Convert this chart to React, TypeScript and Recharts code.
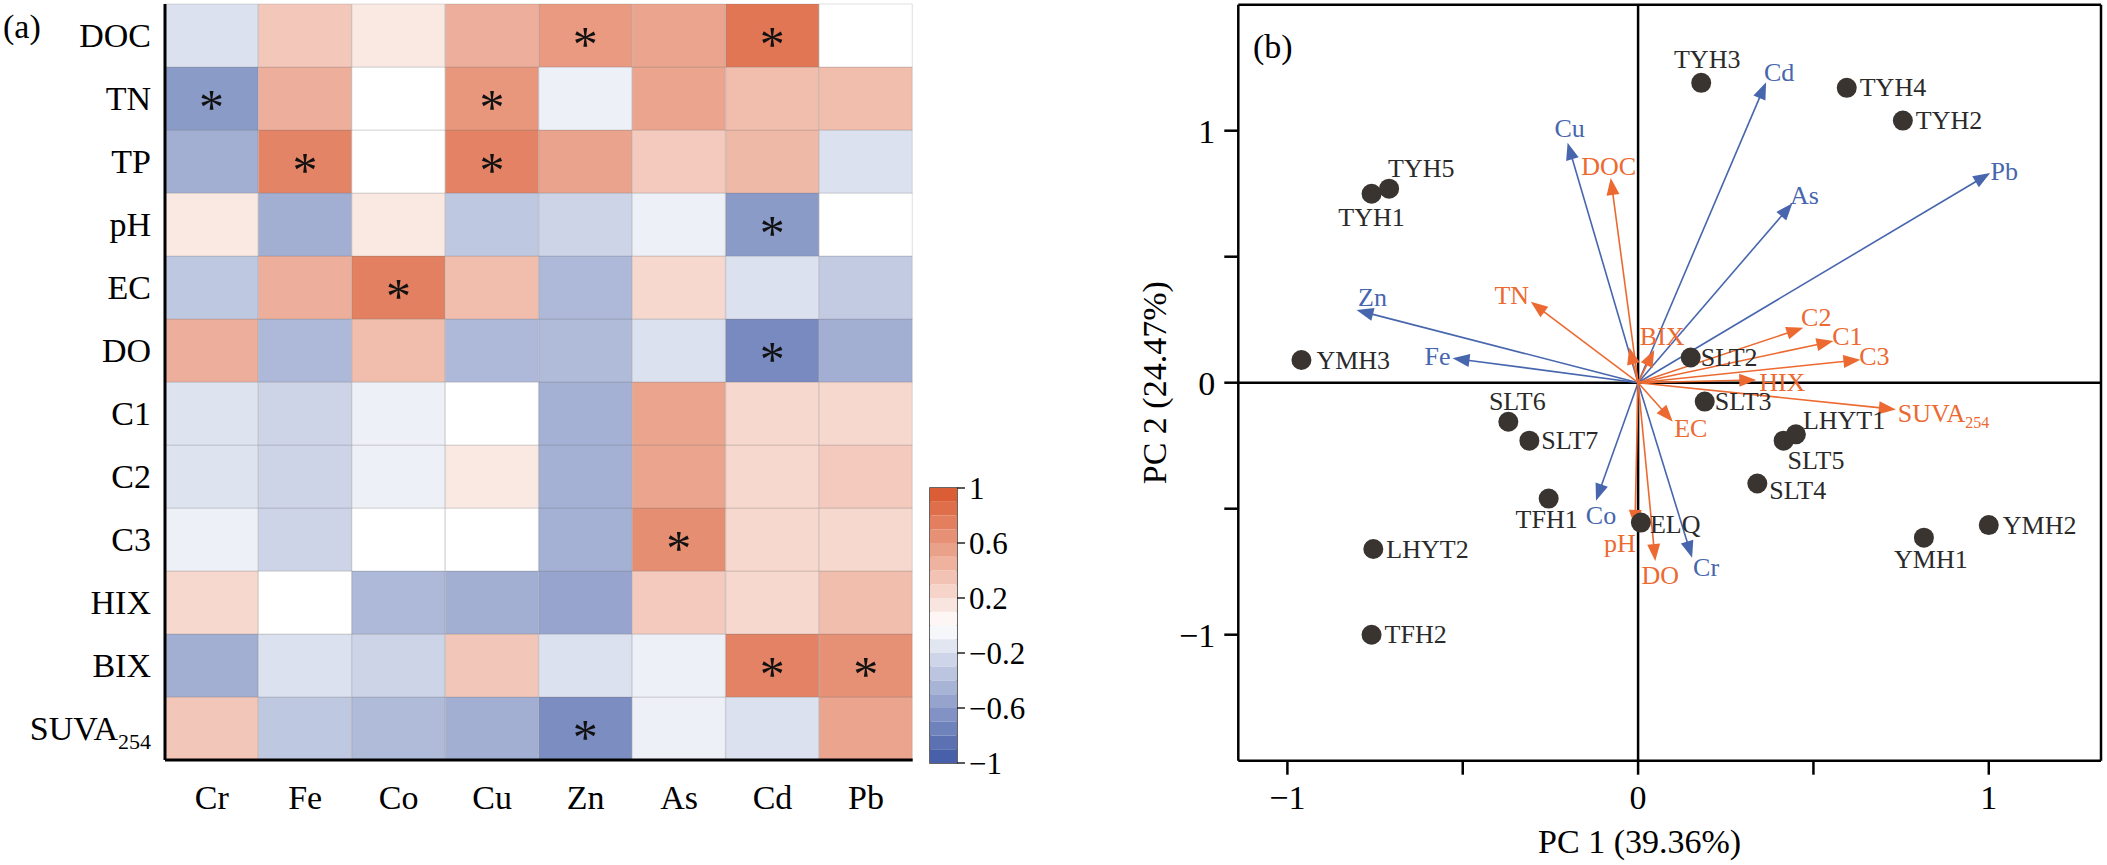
import React from "react";
import {
  BarChart,
  Bar,
  Cell,
  XAxis,
  YAxis,
  LabelList,
  ReferenceArea,
  ScatterChart,
  Scatter,
  ReferenceLine,
  Label,
} from "recharts";

const FONT = '"Liberation Serif", "Times New Roman", serif';
const BLUE = "#4766ad";
const ORANGE = "#ec6a31";
const DOT = "#3a3431";

// ---- (a) correlation heatmap ----
const metals = ["Cr", "Fe", "Co", "Cu", "Zn", "As", "Cd", "Pb"];
const params = ["DOC", "TN", "TP", "pH", "EC", "DO", "C1", "C2", "C3", "HIX", "BIX", "SUVA254"];

// one array per row, values in metals order
const rDOC = [-0.18, 0.32, 0.13, 0.47, 0.59, 0.53, 0.8, 0.0];
const rTN = [-0.6, 0.47, 0.0, 0.61, -0.09, 0.53, 0.38, 0.38];
const rTP = [-0.48, 0.72, 0.0, 0.73, 0.54, 0.31, 0.41, -0.18];
const rpH = [0.13, -0.48, 0.13, -0.33, -0.26, -0.09, -0.6, 0.0];
const rEC = [-0.33, 0.47, 0.74, 0.38, -0.42, 0.23, -0.18, -0.31];
const rDO = [0.47, -0.42, 0.38, -0.42, -0.41, -0.18, -0.7, -0.48];
const rC1 = [-0.17, -0.26, -0.09, 0.0, -0.47, 0.53, 0.23, 0.23];
const rC2 = [-0.17, -0.26, -0.09, 0.13, -0.47, 0.53, 0.23, 0.31];
const rC3 = [-0.09, -0.26, 0.0, 0.0, -0.47, 0.66, 0.23, 0.23];
const rHIX = [0.23, 0.0, -0.42, -0.48, -0.54, 0.31, 0.23, 0.38];
const rBIX = [-0.48, -0.18, -0.26, 0.33, -0.18, -0.09, 0.73, 0.65];
const rSUVA = [0.33, -0.33, -0.41, -0.48, -0.68, -0.09, -0.18, 0.53];

const corr: Record<string, number[]> = {
  DOC: rDOC, TN: rTN, TP: rTP, pH: rpH, EC: rEC, DO: rDO,
  C1: rC1, C2: rC2, C3: rC3, HIX: rHIX, BIX: rBIX, SUVA254: rSUVA,
};

const significant = [
  "DOC-Zn", "DOC-Cd", "TN-Cr", "TN-Cu", "TP-Fe", "TP-Cu", "pH-Cd",
  "EC-Co", "DO-Cd", "C3-As", "BIX-Cd", "BIX-Pb", "SUVA254-Zn",
];

const colorbarTicks = [-1, -0.6, -0.2, 0.2, 0.6, 1];
const colorbarSteps = [
  -0.95, -0.85, -0.75, -0.65, -0.55, -0.45, -0.35, -0.25, -0.15, -0.05,
  0.05, 0.15, 0.25, 0.35, 0.45, 0.55, 0.65, 0.75, 0.85, 0.95,
];

// ---- (b) PCA biplot ----
const siteNames = [
  "TYH1", "TYH5", "YMH3", "SLT6", "SLT7", "TFH1", "LHYT2", "TFH2", "TYH3", "TYH4",
  "TYH2", "SLT2", "SLT3", "LHYT1", "SLT5", "SLT4", "ELQ", "YMH1", "YMH2",
];
const sitePC1 = [-0.76, -0.71, -0.96, -0.37, -0.31, -0.255, -0.755, -0.76, 0.18, 0.595, 0.755, 0.15, 0.19, 0.45, 0.415, 0.34, 0.008, 0.815, 1.0];
const sitePC2 = [0.75, 0.77, 0.09, -0.155, -0.23, -0.46, -0.66, -1.0, 1.19, 1.17, 1.04, 0.1, -0.075, -0.205, -0.23, -0.4, -0.555, -0.615, -0.565];

// loadings, metals order
const metalPC1 = [0.154, -0.529, -0.12, -0.201, -0.803, 0.44, 0.365, 1.004];
const metalPC2 = [-0.695, 0.097, -0.468, 0.952, 0.288, 0.712, 1.192, 0.832];
// loadings, params order
const paramPC1 = [-0.078, -0.306, -0.025, -0.009, 0.099, 0.049, 0.557, 0.471, 0.634, 0.337, 0.046, 0.735];
const paramPC2 = [0.812, 0.321, 0.14, -0.572, -0.155, -0.708, 0.165, 0.218, 0.091, 0.011, 0.13, -0.106];

const pcTicks = [-1, -0.5, 0, 0.5, 1];

// label placement (anchor, dx, dy from the point / arrow tip)
const siteLabelAt: Record<string, [string, number, number]> = {
  TYH1: ["middle", 0, 24], TYH5: ["start", -1, -20], YMH3: ["start", 15, 0],
  SLT6: ["middle", 9, -20], SLT7: ["start", 12, 0], TFH1: ["middle", -2, 21],
  LHYT2: ["start", 13, 0], TFH2: ["start", 13, 0], TYH3: ["middle", 6, -23],
  TYH4: ["start", 13, 0], TYH2: ["start", 13, 0], SLT2: ["start", 10, 0],
  SLT3: ["start", 10, 0], LHYT1: ["start", 7, -14], SLT5: ["start", 4, 20],
  SLT4: ["start", 12, 7], ELQ: ["start", 9, 2], YMH1: ["middle", 7, 22],
  YMH2: ["start", 14, 0],
};
const loadingLabelAt: Record<string, [string, number, number]> = {
  Cu: ["middle", 2, -14], Zn: ["middle", 16, -13], Fe: ["middle", -15, -2],
  Cd: ["middle", 13, -10], As: ["middle", 12, -8], Pb: ["middle", 14, -2],
  Co: ["middle", 5, 15], Cr: ["middle", 14, 10],
  DOC: ["middle", -2, -12], TN: ["middle", -19, -6], BIX: ["middle", 8, -13],
  C2: ["middle", 13, -10], C1: ["middle", 14, -5], C3: ["middle", 14, -3],
  HIX: ["middle", 26, 3], SUVA254: ["start", 2, 4], EC: ["middle", 18, 7],
  pH: ["middle", -15, 17], DO: ["middle", 5, 14],
};

const fmt = (v: number) => (v < 0 ? "\u2212" : "") + Math.abs(v);

function corrColor(v: number) {
  const end = v >= 0 ? [217, 84, 42] : [62, 88, 164];
  const t = Math.min(1, Math.abs(v));
  const c = end.map((ch) => Math.round(255 + (ch - 255) * t));
  return `rgb(${c[0]},${c[1]},${c[2]})`;
}

const heatRows = metals.map((m) => {
  const row: Record<string, string | number> = { metal: m };
  params.forEach((p) => (row[p] = 1));
  return row;
});
const rowTicks = params.map((_, i) => params.length - 0.5 - i);

const RowTick = ({ x, y, payload }: any) => {
  const name = params[Math.round(params.length - 0.5 - payload.value)];
  return (
    <text x={x - 14} y={y} textAnchor="end" dominantBaseline="central" fontSize={34} fontFamily={FONT} fill="#000">
      {name === "SUVA254" ? (
        <>
          SUVA
          <tspan fontSize={22} dy={12}>254</tspan>
        </>
      ) : (
        name
      )}
    </text>
  );
};

const MetalTick = ({ x, y, payload }: any) => (
  <text x={x} y={y + 37} textAnchor="middle" dominantBaseline="central" fontSize={34} fontFamily={FONT} fill="#000">
    {payload.value}
  </text>
);

const starFor = (p: string) => (props: any) => {
  const vb = props.viewBox ?? props;
  const j = props.index;
  if (j == null || !significant.includes(`${p}-${metals[j]}`)) return null;
  return (
    <text x={vb.x + vb.width / 2} y={vb.y + vb.height / 2 + 25} textAnchor="middle" fontSize={50} fontFamily={FONT} fill="#111">
      *
    </text>
  );
};

const cbOrder = [...colorbarSteps].sort((a, b) => Math.abs(a) - Math.abs(b));
const cbRow: Record<string, string | number> = { name: "cb" };
cbOrder.forEach((v, i) => (cbRow[`s${i}`] = Math.sign(v) * 0.1));

// ---- biplot helpers ----
const siteData = siteNames.map((name, i) => ({ name, x: sitePC1[i], y: sitePC2[i] }));
const loadings = [
  ...metals.map((name, i) => ({ name, x: metalPC1[i], y: metalPC2[i], color: BLUE })),
  ...params.map((name, i) => ({ name, x: paramPC1[i], y: paramPC2[i], color: ORANGE })),
];

const pcLabel = (v: number) => (Number.isInteger(v) ? (v === 0 ? "0" : fmt(v)) : "");

const SiteDot = (p: any) => {
  const { cx, cy, payload } = p;
  const [anchor, dx, dy] = siteLabelAt[payload.name] ?? ["start", 12, 0];
  return (
    <g>
      <circle cx={cx} cy={cy} r={10} fill={DOT} />
      <text x={cx + dx} y={cy + dy} textAnchor={anchor as any} dominantBaseline="central" fontSize={26} fontFamily={FONT} fill="#2a2a2a">
        {payload.name}
      </text>
    </g>
  );
};

const arrowShape = (name: string, color: string) => (p: any) => {
  const { x1, y1, x2, y2 } = p;
  const dx = x2 - x1;
  const dy = y2 - y1;
  const len = Math.hypot(dx, dy) || 1;
  const ux = dx / len;
  const uy = dy / len;
  const L = 17;
  const W = 6.5;
  const bx = x2 - ux * L;
  const by = y2 - uy * L;
  const pts = `${x2},${y2} ${bx - uy * W},${by + ux * W} ${bx + uy * W},${by - ux * W}`;
  const lab = loadingLabelAt[name];
  return (
    <g>
      <line x1={x1} y1={y1} x2={bx + ux * 2} y2={by + uy * 2} stroke={color} strokeWidth={1.6} />
      <polygon points={pts} fill={color} />
      {lab && (
        <text x={x2 + lab[1]} y={y2 + lab[2]} textAnchor={lab[0] as any} dominantBaseline="central" fontSize={26} fontFamily={FONT} fill={color}>
          {name === "SUVA254" ? (
            <>
              SUVA
              <tspan fontSize={16} dy={9}>254</tspan>
            </>
          ) : (
            name
          )}
        </text>
      )}
    </g>
  );
};

const xLabel = (p: any) => {
  const vb = p.viewBox;
  return (
    <text x={vb.x + vb.width / 2 - 30} y={vb.y + 92} textAnchor="middle" fontSize={34} fontFamily={FONT} fill="#000">
      PC 1 (39.36%)
    </text>
  );
};

const yLabel = (p: any) => {
  const vb = p.viewBox;
  const cx = vb.x + 55;
  const cy = vb.y + vb.height / 2;
  return (
    <text x={cx} y={cy} transform={`rotate(-90 ${cx} ${cy})`} textAnchor="middle" dominantBaseline="central" fontSize={34} fontFamily={FONT} fill="#000">
      PC 2 (24.47%)
    </text>
  );
};

const frame = { stroke: "#000", strokeWidth: 3 };
const axis2 = { stroke: "#000", strokeWidth: 2.5 };
const tickFont = { fill: "#000", fontSize: 34, fontFamily: FONT };

export default function App() {
  return (
    <div style={{ position: "absolute", left: 0, top: 0, width: 2107, height: 865, background: "#fff", fontFamily: FONT, overflow: "hidden" }}>
      <div style={{ position: "absolute", left: 3, top: 10, fontSize: 34, lineHeight: 1 }}>(a)</div>

      {/* heatmap */}
      <div style={{ position: "absolute", left: 0, top: 0 }}>
        <BarChart width={960} height={865} data={heatRows} margin={{ top: 4, right: 47.3, bottom: 45, left: 0 }} barCategoryGap={0} barGap={0}>
          <XAxis dataKey="metal" interval={0} height={60} tickSize={0} tickMargin={0} tickLine={false} axisLine={frame} tick={<MetalTick />} />
          <XAxis xAxisId="top" dataKey="metal" orientation="top" height={0} tick={false} tickLine={false} axisLine={frame} />
          <YAxis type="number" domain={[0, params.length]} ticks={rowTicks} interval={0} width={165} tickSize={0} tickMargin={0} tickLine={false} axisLine={frame} tick={<RowTick />} />
          <YAxis yAxisId="right" orientation="right" type="number" domain={[0, params.length]} width={0} tick={false} tickLine={false} axisLine={frame} />
          {[...params].reverse().map((p) => (
            <Bar key={p} dataKey={p} stackId="h" isAnimationActive={false} stroke="rgba(110,110,110,0.22)" strokeWidth={1}>
              {metals.map((m, j) => (
                <Cell key={m} fill={corrColor(corr[p][j])} />
              ))}
              <LabelList dataKey={p} content={starFor(p)} />
            </Bar>
          ))}
        </BarChart>
      </div>

      {/* colour bar */}
      <div style={{ position: "absolute", left: 900, top: 0 }}>
        <BarChart width={150} height={865} data={[cbRow]} margin={{ top: 488, right: 0, bottom: 102, left: 30 }} barCategoryGap={0} barGap={0} stackOffset="sign">
          <XAxis dataKey="name" hide />
          <YAxis orientation="right" type="number" domain={[-1, 1]} allowDataOverflow ticks={colorbarTicks} interval={0} tickFormatter={fmt} width={93} tickSize={8} tickMargin={4} axisLine={false} tickLine={{ stroke: "#222", strokeWidth: 1.5 }} tick={{ fill: "#000", fontSize: 31, fontFamily: FONT }} />
          {cbOrder.map((v, i) => (
            <Bar key={i} dataKey={`s${i}`} stackId="cb" fill={corrColor(v)} isAnimationActive={false} />
          ))}
          <ReferenceArea y1={-1} y2={1} fill="none" stroke="#333" strokeWidth={1.5} ifOverflow="visible" />
        </BarChart>
      </div>

      {/* biplot */}
      <div style={{ position: "absolute", left: 1100, top: 0 }}>
        <ScatterChart width={1007} height={865} margin={{ top: 4.7, right: 6, bottom: 0, left: 0 }}>
          <XAxis dataKey="x" type="number" domain={[-1.14, 1.32]} allowDataOverflow ticks={pcTicks} interval={0} tickFormatter={pcLabel} height={104.3} tickSize={14} tickMargin={10} axisLine={axis2} tickLine={axis2} tick={tickFont}>
            <Label content={xLabel} />
          </XAxis>
          <YAxis dataKey="y" type="number" domain={[-1.5, 1.5]} allowDataOverflow ticks={pcTicks} interval={0} tickFormatter={pcLabel} width={138.3} tickSize={14} tickMargin={9} axisLine={axis2} tickLine={axis2} tick={tickFont}>
            <Label content={yLabel} />
          </YAxis>
          <ReferenceLine y={1.5} stroke="#000" strokeWidth={2.5} />
          <ReferenceLine x={1.32} stroke="#000" strokeWidth={2.5} />
          <ReferenceLine y={0} stroke="#000" strokeWidth={2.5} />
          <ReferenceLine x={0} stroke="#000" strokeWidth={2.5} />
          {loadings.map((l) => (
            <ReferenceLine key={l.name} segment={[{ x: 0, y: 0 }, { x: l.x, y: l.y }]} shape={arrowShape(l.name, l.color)} />
          ))}
          <Scatter data={siteData} shape={SiteDot} isAnimationActive={false} />
        </ScatterChart>
      </div>
      <div style={{ position: "absolute", left: 1253, top: 30, fontSize: 34, lineHeight: 1 }}>(b)</div>
    </div>
  );
}
